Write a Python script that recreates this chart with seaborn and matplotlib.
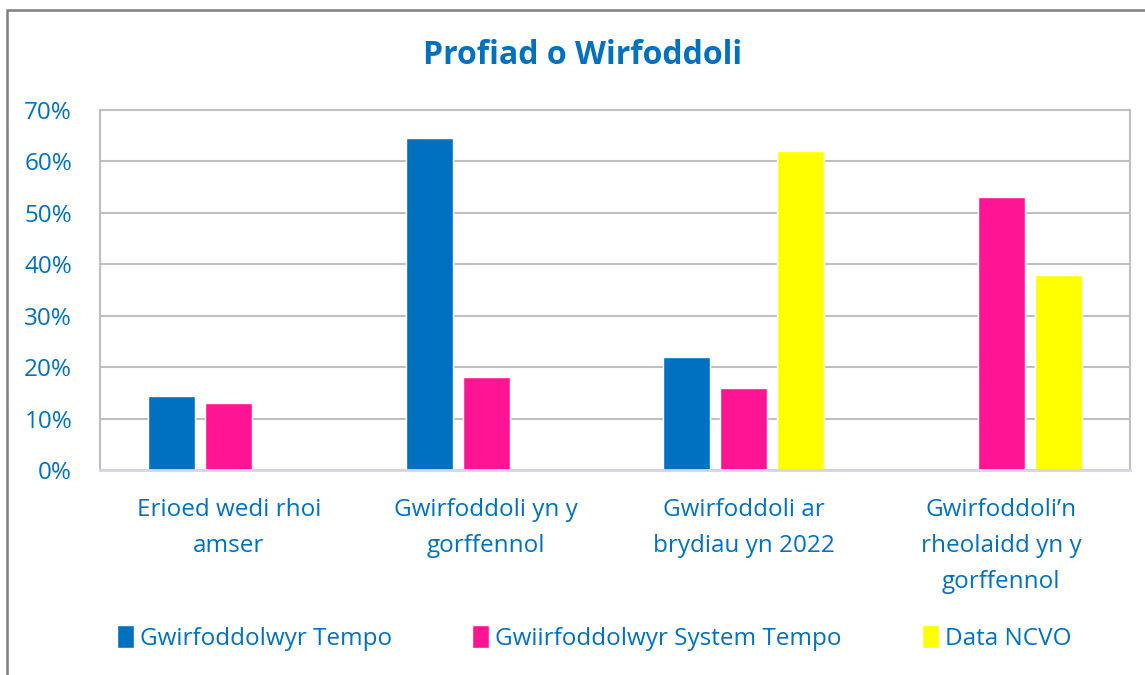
import pandas as pd
import matplotlib.pyplot as plt
import seaborn as sns
from matplotlib.patches import Rectangle
from matplotlib.ticker import PercentFormatter

categories = ['Erioed wedi rhoi\namser',
              'Gwirfoddoli yn y\ngorffennol',
              'Gwirfoddoli ar\nbrydiau yn 2022',
              'Gwirfoddoli\u2019n\nrheolaidd yn y\ngorffennol']
series = ['Gwirfoddolwyr Tempo', 'Gwiirfoddolwyr System Tempo', 'Data NCVO']

tempo = [14.3, 64.5, 22.0, None]
system_tempo = [13.0, 18.0, 16.0, 53.0]
ncvo = [None, None, 62.0, 38.0]

colors = ['#0070C0', '#FF1493', '#FFFF00']
blue = '#0070C0'

# long form table for seaborn
rows = []
for name, vals in zip(series, [tempo, system_tempo, ncvo]):
    for cat, v in zip(categories, vals):
        rows.append({'category': cat, 'series': name, 'value': v})
df = pd.DataFrame(rows)

sns.set_style('white')
plt.rcParams['font.family'] = ['Open Sans', 'DejaVu Sans']

fig = plt.figure(figsize=(11.45, 6.75), dpi=100)
ax = fig.add_axes([100 / 1145, 1 - 470 / 675, 1030 / 1145, 360 / 675])

sns.barplot(data=df, x='category', y='value', hue='series', order=categories,
            hue_order=series, palette=colors, width=0.664, gap=0.174,
            saturation=1, ax=ax)

ax.set_ylim(0, 70)
ax.set_xlim(-0.5, 3.5)
ax.set_yticks(range(0, 71, 10))
ax.yaxis.set_major_formatter(PercentFormatter(decimals=0))
ax.grid(axis='y', color='#BFBFBF', linewidth=1.5)
ax.set_axisbelow(True)
ax.set_xlabel('')
ax.set_ylabel('')
ax.tick_params(axis='y', length=0, pad=20, labelsize=17.5, labelcolor=blue)
ax.tick_params(axis='x', length=0, pad=20, labelsize=17.5, labelcolor=blue)
for lbl in ax.get_xticklabels():
    lbl.set_linespacing(1.68)

for side in ['left', 'right', 'top']:
    ax.spines[side].set_color('#BFBFBF')
    ax.spines[side].set_linewidth(1.5)
ax.spines['bottom'].set_color('#D9D2EE')
ax.spines['bottom'].set_linewidth(2)

handles, labels = ax.get_legend_handles_labels()
ax.legend_.remove()
fig.legend(handles, labels, loc='center', bbox_to_anchor=(594 / 1145, 1 - 638 / 675),
           ncol=3, frameon=False, fontsize=17.5, labelcolor=blue,
           handlelength=0.7, handleheight=1.1, handletextpad=0.25,
           columnspacing=3.3)

fig.text(583 / 1145, 1 - 55 / 675, 'Profiad o Wirfoddoli', ha='center', va='center',
         fontsize=23, fontweight='bold', color=blue)

# outer chart border (cut off at right and bottom like the screenshot)
fig.patches.append(Rectangle((7 / 1145, -0.05), 1.1, 1 - 10 / 675 + 0.05,
                             transform=fig.transFigure, fill=False,
                             edgecolor='#7F7F7F', linewidth=1.8))

fig.savefig('out.png', dpi=100)
